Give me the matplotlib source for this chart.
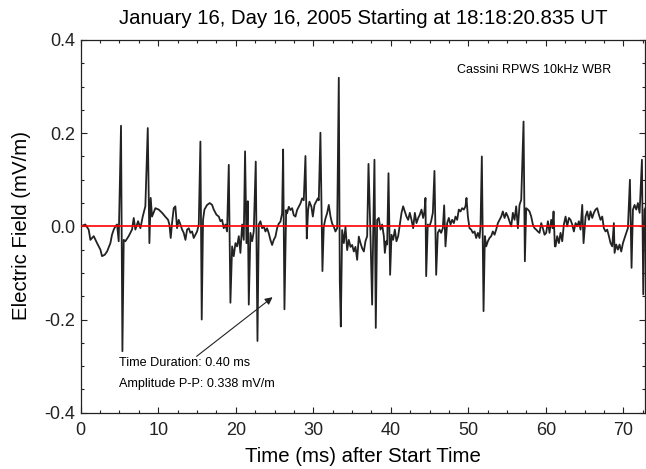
import matplotlib
matplotlib.use('Agg')
import matplotlib.pyplot as plt
from matplotlib.ticker import MultipleLocator, FixedLocator, FixedFormatter

plt.rcParams['font.family'] = ['Liberation Sans', 'DejaVu Sans']
plt.rcParams['axes.unicode_minus'] = False

# ---- data (time in ms, electric field in mV/m) ----
time_ms = [
    0.0, 0.6, 1.03, 1.25, 1.68, 2.11, 2.54, 2.75, 3.1, 3.4, 3.83, 4.04, 4.26, 4.47, 4.69, 4.9,
    5.2, 5.38, 5.55, 5.76, 6.19, 6.62, 6.84, 7.05, 7.4, 7.7, 8.0, 8.34, 8.65, 8.86, 9.03, 9.2,
    9.63, 10.06, 10.5, 10.9, 11.27, 11.44, 11.61, 11.78,
    12.0, 12.21, 12.43, 12.64, 12.86, 13.08, 13.29, 13.51, 13.72, 13.94, 14.15, 14.37, 14.58,
    14.8, 15.01, 15.23, 15.44, 15.61, 15.78, 15.96, 16.3, 16.65, 16.95, 17.16, 17.51, 17.81,
    18.02, 18.24, 18.45, 18.67, 18.88, 19.1, 19.31, 19.53, 19.74, 19.96, 20.17, 20.39, 20.6,
    20.82, 21.03, 21.2, 21.38, 21.55, 21.68, 21.89, 22.11, 22.32, 22.58, 22.8, 22.97, 23.18,
    23.4, 23.61, 23.83, 24.04,
    24.26, 24.47, 24.69, 24.9, 25.12, 25.33, 25.55, 25.76, 25.98, 26.11, 26.28, 26.5, 26.62,
    26.84, 27.05, 27.27, 27.48, 27.7, 27.91, 28.13, 28.34, 28.56, 28.77, 28.99, 29.16, 29.33,
    29.5, 29.76, 29.94, 30.15, 30.37, 30.58, 30.71, 30.92, 31.18, 31.35, 31.57, 31.78, 32.0,
    32.22, 32.43, 32.65, 32.86, 33.08, 33.29, 33.42, 33.55, 33.72, 33.94, 34.15, 34.37, 34.58,
    34.8, 35.01, 35.23, 35.44, 35.66, 35.87, 36.09, 36.3,
    36.52, 36.73, 36.95, 37.12, 37.38, 37.59, 37.72, 37.89, 38.06, 38.24, 38.45, 38.67, 38.88,
    39.1, 39.23, 39.4, 39.53, 39.7, 39.91, 40.09, 40.3, 40.52, 40.73, 40.95, 41.16, 41.38,
    41.59, 41.81, 42.02, 42.24, 42.45, 42.67, 42.88, 43.1, 43.31, 43.53, 43.74, 43.96, 44.17,
    44.34, 44.47, 44.56, 44.77, 44.99, 45.2, 45.42, 45.63, 45.85, 46.06, 46.28, 46.49, 46.71,
    46.88, 47.05, 47.27, 47.48, 47.7, 47.91, 48.13, 48.34, 48.56, 48.77,
    48.99, 49.2, 49.42, 49.63, 49.76, 49.94, 50.15, 50.37, 50.58, 50.8, 51.01, 51.23, 51.44,
    51.57, 51.74, 51.96, 52.13, 52.3, 52.52, 52.73, 52.95, 53.16, 53.38, 53.59, 53.81, 54.02,
    54.24, 54.45, 54.67, 54.88, 55.1, 55.31, 55.53, 55.74, 55.96, 56.17, 56.39, 56.6, 56.82,
    57.12, 57.29, 57.46, 57.68, 57.89, 58.11, 58.32, 58.54, 58.75, 58.97, 59.18, 59.4, 59.61,
    59.83, 60.04, 60.26, 60.47, 60.69, 60.86, 60.99, 61.16,
    61.25, 61.46, 61.68, 61.89, 62.11, 62.32, 62.54, 62.75, 62.97, 63.18, 63.4, 63.61, 63.83,
    64.04, 64.26, 64.47, 64.69, 64.86, 65.12, 65.33, 65.55, 65.76, 65.98, 66.19, 66.41, 66.62,
    66.84, 67.05, 67.27, 67.48, 67.7, 67.91, 68.13, 68.34, 68.56, 68.77, 68.86, 69.07, 69.29,
    69.5, 69.72, 69.94, 70.15, 70.37, 70.58, 70.84, 71.05, 71.23, 71.44, 71.66, 71.87, 72.09,
    72.39, 72.56, 72.73, 72.95, 73.03,
]

field_mvm = [
    0.0, 0.004, -0.007, -0.029, -0.021, -0.036, -0.05, -0.064, -0.061, -0.054, -0.036, -0.018,
    -0.007, 0.0, 0.004, -0.032, 0.216, -0.268, -0.029, -0.032, -0.021, -0.007, 0.018, -0.007,
    0.011, -0.004, 0.021, 0.043, 0.211, -0.036, 0.061, 0.021, 0.039, 0.036, 0.029, 0.021,
    0.014, 0.004, -0.025, 0.007,
    0.039, 0.043, -0.004, 0.014, 0.004, -0.007, -0.014, -0.029, -0.007, -0.004, -0.014, -0.011,
    -0.025, -0.018, -0.011, 0.004, 0.182, -0.2, 0.014, 0.036, 0.046, 0.05, 0.046, 0.036, 0.025,
    0.021, 0.011, 0.014, -0.004, 0.004, -0.011, 0.132, -0.164, -0.043, -0.064, -0.036, -0.043,
    -0.021, -0.057, 0.004, -0.029, 0.161, -0.036, 0.054, -0.168, -0.014, -0.032, -0.011, 0.139,
    -0.246, 0.004, 0.011, -0.004, 0.0, -0.011, -0.004,
    -0.015, -0.029, -0.04, -0.029, -0.022, -0.004, 0.006, 0.01, 0.028, 0.165, -0.178, 0.035,
    0.028, 0.042, 0.035, 0.039, 0.024, 0.021, 0.035, 0.042, 0.049, 0.06, 0.056, 0.151, -0.026,
    0.035, 0.053, 0.042, 0.021, 0.046, 0.053, 0.06, 0.056, 0.201, -0.096, -0.001, 0.017, 0.028,
    0.046, 0.021, 0.006, -0.001, -0.011, -0.004, 0.319, -0.119, -0.215, -0.008, -0.036, -0.001,
    -0.051, -0.029, -0.044, -0.04, -0.054, -0.044, -0.072, -0.022, -0.036, -0.047,
    -0.054, -0.032, -0.021, 0.134, -0.021, -0.168, -0.021, 0.143, -0.218, 0.014, 0.018, -0.007,
    0.004, -0.021, -0.057, -0.032, -0.039, 0.114, -0.104, -0.018, -0.029, -0.007, -0.032,
    -0.021, 0.004, 0.029, 0.043, 0.032, 0.021, 0.014, 0.029, 0.014, -0.004, 0.029, 0.007,
    0.018, 0.025, 0.036, 0.018, 0.032, 0.061, -0.107, 0.004, 0.0, 0.011, 0.029, 0.119, -0.104,
    -0.014, -0.007, -0.014, -0.004, 0.045, -0.043, 0.007, 0.018, 0.004, 0.014, 0.007, 0.021,
    0.014, 0.036,
    0.032, 0.039, 0.036, 0.043, 0.061, 0.021, -0.004, -0.007, -0.014, -0.011, -0.025, -0.014,
    -0.025, 0.0, 0.15, -0.182, -0.021, -0.043, -0.032, -0.025, -0.021, -0.011, -0.018, -0.007,
    0.007, 0.014, 0.021, 0.032, 0.018, 0.029, 0.021, 0.011, 0.0, 0.029, 0.014, 0.043, -0.004,
    0.046, 0.057, 0.225, -0.075, 0.039, 0.036, 0.032, 0.021, 0.004, -0.004, -0.007, -0.011,
    -0.014, 0.007, -0.004, -0.018, -0.014, 0.011, -0.014, 0.014, -0.004, 0.032, -0.043,
    -0.043, -0.021, -0.036, -0.014, -0.032, 0.004, 0.021, 0.0, 0.018, 0.014, 0.004, -0.011,
    0.007, 0.0, 0.011, -0.007, 0.046, -0.036, 0.021, 0.032, 0.014, 0.032, 0.018, 0.029, 0.036,
    0.039, 0.025, 0.014, 0.021, -0.004, -0.011, -0.007, -0.021, -0.036, -0.043, 0.007, -0.057,
    -0.039, -0.05, -0.039, -0.054, -0.036, -0.025, -0.014, -0.004, 0.1, -0.089, 0.036, 0.046,
    0.036, 0.05, 0.029, 0.143, -0.146, 0.036, 0.043, 0.036,
]

xtick_values = [0, 10, 20, 30, 40, 50, 60, 70]
xtick_labels = ['0', '10', '20', '30', '40', '50', '60', '70']
ytick_values = [-0.4, -0.2, 0.0, 0.2, 0.4]
ytick_labels = ['-0.4', '-0.2', '0.0', '0.2', '0.4']

title = 'January 16, Day 16, 2005 Starting at 18:18:20.835 UT'
instrument = 'Cassini RPWS 10kHz WBR'
note_lines = ['Time Duration: 0.40 ms', 'Amplitude P-P: 0.338 mV/m']

W, H = 646, 469
fig = plt.figure(figsize=(W / 100, H / 100), dpi=100)
ax = fig.add_axes([80.7 / W, 1 - 412.7 / H, (645.5 - 80.7) / W, (412.7 - 40) / H])

ax.plot(time_ms, field_mvm, color='#222222', lw=1.3, zorder=2)
ax.axhline(0.0, color='#ff0000', lw=1.2, zorder=3)

ax.set_xlim(0, 72.85)
ax.set_ylim(-0.4, 0.4)
ax.xaxis.set_major_locator(FixedLocator(xtick_values))
ax.xaxis.set_major_formatter(FixedFormatter(xtick_labels))
ax.yaxis.set_major_locator(FixedLocator(ytick_values))
ax.yaxis.set_major_formatter(FixedFormatter(ytick_labels))
ax.xaxis.set_minor_locator(MultipleLocator(2.5))
ax.yaxis.set_minor_locator(MultipleLocator(0.05))
ax.tick_params(which='both', direction='in', top=True, right=True, width=0.8, color='#222222')
ax.tick_params(which='major', length=4.5, labelsize=13, colors='#222222')
ax.tick_params(axis='x', which='major', pad=6.5)
ax.tick_params(axis='y', which='major', pad=4)
ax.tick_params(which='minor', length=2.4)
for s in ax.spines.values():
    s.set_linewidth(0.9)
    s.set_color('#222222')

fig.text(363 / W, 1 - 18 / H, title, ha='center', va='center', fontsize=14.7)
fig.text(363 / W, 1 - 456 / H, 'Time (ms) after Start Time', ha='center', va='center',
         fontsize=14.7)
fig.text(21.5 / W, 1 - 225 / H, 'Electric Field (mV/m)', ha='center', va='center',
         rotation=90, fontsize=14.7)
fig.text(457 / W, 1 - 70 / H, instrument, ha='left', va='center', fontsize=9)
fig.text(119 / W, 1 - 363 / H, note_lines[0], ha='left', va='center', fontsize=9.1)
fig.text(119 / W, 1 - 384 / H, note_lines[1], ha='left', va='center', fontsize=9.1)

ax.annotate('', xy=(24.75, -0.152), xytext=(14.95, -0.279),
            arrowprops=dict(arrowstyle='-|>', color='#222222', lw=0.8,
                            mutation_scale=11, shrinkA=0, shrinkB=0))

fig.savefig('out.png', dpi=100)
